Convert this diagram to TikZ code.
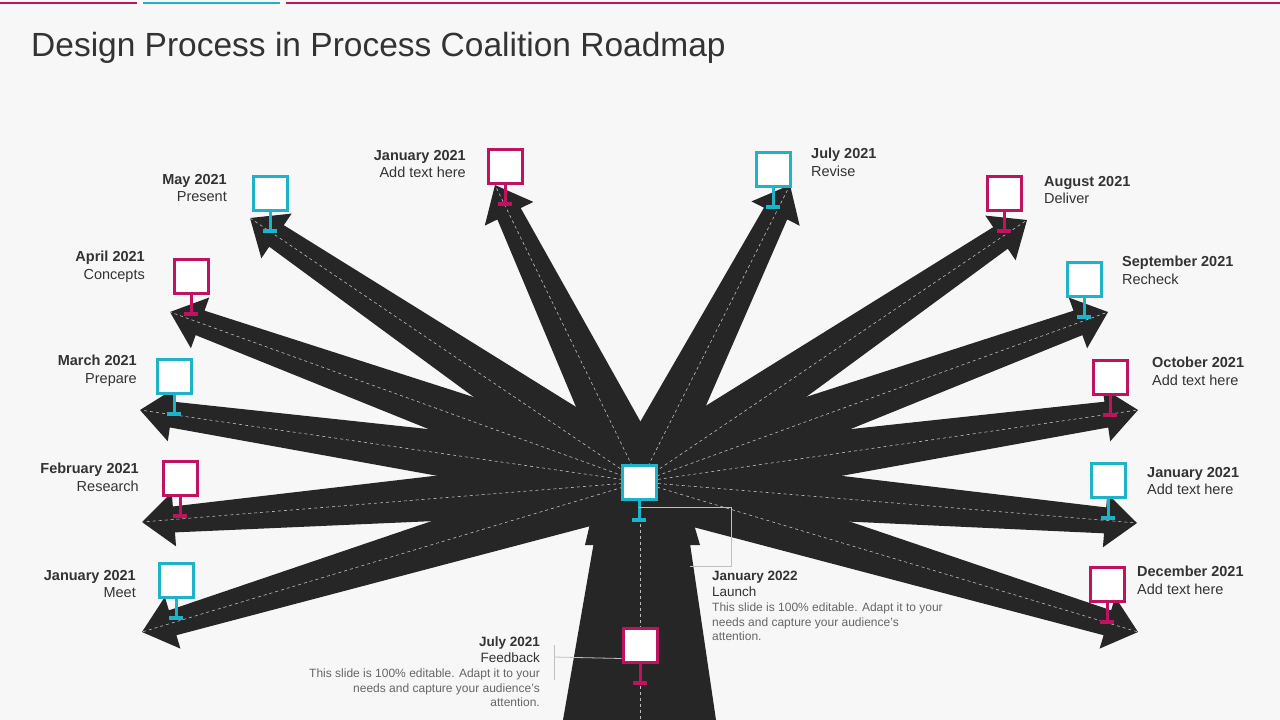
\documentclass[tikz,border=0pt]{standalone}
\usepackage{fontspec}
\setmainfont{Liberation Sans}
\usetikzlibrary{positioning}
\definecolor{pink}{HTML}{C0135F}
\definecolor{teal}{HTML}{1FB3C8}
\definecolor{road}{HTML}{262626}
\definecolor{bg}{HTML}{F7F7F7}
\definecolor{txt}{HTML}{333333}
\tikzstyle{every picture}+=[remember picture]

% one sign: box on a stem
\newcommand{\sign}[4]{%
  \draw[#4, line width=3pt] (#2,#3+19) -- (#2,#3+38);
  \draw[#4, line width=4pt] (#2-7,#3+38) -- (#2+7,#3+38);
  \node (#1) at (#2,#3) [signbox, draw=#4] {};
}

\begin{document}
\begin{tikzpicture}
  [ x=1pt, y=-1pt,
    signbox/.style={minimum size=34pt, inner sep=0pt, fill=white, line width=3pt},
    date/.style={font=\fontsize{14.5}{17.5}\selectfont, text=txt, inner sep=0pt},
    para/.style={font=\fontsize{12}{14.5}\selectfont, text=black!60, inner sep=0pt},
    lead/.style={draw=black!25, line width=0.8pt}
  ]
  \fill[bg] (0,0) rectangle (1280,720);
  \useasboundingbox (0,0) rectangle (1280,720);
  \draw[pink, line width=2.5pt] (0,3) -- (137,3) (286,3) -- (1280,3);
  \draw[teal, line width=2.5pt] (143,3) -- (280,3);
  \node[anchor=west, text=txt, font=\fontsize{33.5}{40}\selectfont, inner sep=0pt] (title) at (31,48)
    {Design Process in Process Coalition Roadmap};

  \coordinate (hub) at (640,482);
  % trunk
  \fill[road] (596,530) -- (688,530) -- (716,720) -- (563,720) -- cycle;
  \fill[road] (605,460) -- (675,460) -- (700,545) -- (585,545) -- cycle;
  % arrows
  \foreach \tx/\ty [count=\i] in {142/632, 142/522, 140/410, 170/312, 250/218, 495/185,
      790/185, 1027/220, 1108/312, 1138/410, 1137/523, 1138/632} {
    \pgfmathsetmacro\len{veclen(\tx-640,\ty-482)}
    \pgfmathsetmacro\ux{(\tx-640)/\len}
    \pgfmathsetmacro\uy{(\ty-482)/\len}
    \pgfmathsetmacro\hb{\len-32}
    \fill[road] ({640-30*\uy},{482+30*\ux}) -- ({640+\hb*\ux-13*\uy},{482+\hb*\uy+13*\ux})
      -- ({640+\hb*\ux-27*\uy},{482+\hb*\uy+27*\ux}) -- (\tx,\ty)
      -- ({640+\hb*\ux+27*\uy},{482+\hb*\uy-27*\ux}) -- ({640+\hb*\ux+13*\uy},{482+\hb*\uy-13*\ux})
      -- ({640+30*\uy},{482-30*\ux}) -- cycle;
    \coordinate (tip\i) at (\tx,\ty);
  }
  \foreach \i in {1,...,12}
    \draw[white!75!black, dashed, line width=0.6pt] (hub) -- (tip\i);
  \draw[white!75!black, dashed, line width=0.6pt] (hub) -- (640,720);

  % signs
  \sign{meet}{176}{580}{teal}
  \sign{research}{180}{478}{pink}
  \sign{prepare}{174}{376}{teal}
  \sign{concepts}{191}{276}{pink}
  \sign{present}{270}{193}{teal}
  \sign{janA}{505}{166}{pink}
  \sign{julyA}{773}{169}{teal}
  \sign{august}{1004}{193}{pink}
  \sign{september}{1084}{279}{teal}
  \sign{october}{1110}{377}{pink}
  \sign{janB}{1108}{480}{teal}
  \sign{december}{1107}{584}{pink}
  \sign{launch}{639}{482}{teal}
  \sign{feedback}{640}{645}{pink}

  % labels
  \node[date, anchor=north east, align=right] (lmeet) at (136,570) {\textbf{January 2021}\\Meet};
  \node[date, anchor=north east, align=right] (lresearch) at (139,463) {\textbf{February 2021}\\Research};
  \node[date, anchor=north east, align=right] (lprepare) at (137,355) {\textbf{March 2021}\\Prepare};
  \node[date, anchor=north east, align=right] (lconcepts) at (145,251) {\textbf{April 2021}\\Concepts};
  \node[date, anchor=north east, align=right] (lpresent) at (227,174) {\textbf{May 2021}\\Present};
  \node[date, anchor=north east, align=right] (ljanA) at (466,150) {\textbf{January 2021}\\Add text here};
  \node[date, anchor=north west, align=left] (ljulyA) at (811,148) {\textbf{July 2021}\\Revise};
  \node[date, anchor=north west, align=left] (laugust) at (1044,176) {\textbf{August 2021}\\Deliver};
  \node[date, anchor=north west, align=left] (lseptember) at (1122,256) {\textbf{September 2021}\\Recheck};
  \node[date, anchor=north west, align=left] (loctober) at (1152,357) {\textbf{October 2021}\\Add text here};
  \node[date, anchor=north west, align=left] (ljanB) at (1147,467) {\textbf{January 2021}\\Add text here};
  \node[date, anchor=north west, align=left] (ldecember) at (1137,566) {\textbf{December 2021}\\Add text here};

  \node[date, anchor=north west, align=left, font=\fontsize{13.5}{16}\selectfont] (llaunch) at (712,571)
    {\textbf{January 2022}\\Launch};
  \node[para, anchor=north west, align=left] (plaunch) at (712,603)
    {This slide is 100\% editable. Adapt it to your\\needs and capture your audience's\\attention.};
  \node[date, anchor=north east, align=right, font=\fontsize{13.5}{16}\selectfont] (lfeedback) at (540,637)
    {\textbf{July 2021}\\Feedback};
  \node[para, anchor=north east, align=right] (pfeedback) at (540,669)
    {This slide is 100\% editable. Adapt it to your\\needs and capture your audience's\\attention.};

  % leaders
  \draw[lead] (launch.south) ++(0,7) -| (731,566) -- (690,566);
  \draw[lead] (feedback.south west) ++(0,-5) -- (554,657);
  \draw[lead] (554,645) -- (554,680);
\end{tikzpicture}
\end{document}
